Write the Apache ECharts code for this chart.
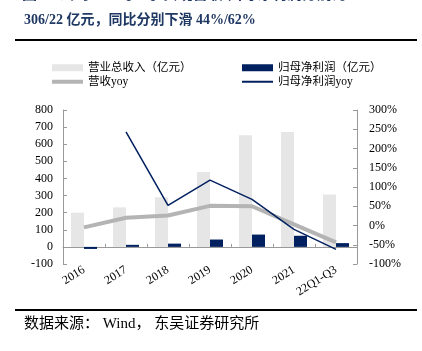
<!DOCTYPE html>
<html><head><meta charset="utf-8">
<script src="https://cdn.jsdelivr.net/npm/echarts@6/dist/echarts.min.js"></script>
<style>html,body{margin:0;padding:0;background:#fff;}#c{width:422px;height:351px;}</style>
</head><body><div id="c"></div>
<script>
const categories = ['2016','2017','2018','2019','2020','2021','22Q1-Q3'];
const revenue = [200, 231, 290, 437, 653, 672, 306];
const profit = [-12, 12, 19, 43, 72, 65, 22];
const revenueYoy = [-5, 20, 26, 51, 50, 3, -44];
const profitYoy = [null, 243, 52, 118, 68, -10, -62];
const leftTicks = {min: -100, max: 800, interval: 100};
const rightTicks = {min: -100, max: 300, interval: 50};

const serif = '"Liberation Serif","Noto Sans CJK SC",serif';
const cjk = '"Liberation Serif","Noto Sans CJK SC",serif';
const navy = '#002060';
const chart = echarts.init(document.getElementById('c'), null, {renderer: 'canvas'});
const legendBase = {orient: 'horizontal', itemWidth: 31, textStyle: {fontFamily: cjk, fontSize: 11.5, color: '#000'}, itemGap: 4, padding: 0};
chart.setOption({
  animation: false,
  backgroundColor: '#fff',
  graphic: [
    {type: 'text', left: 22, top: -12, style: {text: '图1：公司2022Q1-Q3实现营收/归母净利润分别为', font: 'bold 15px "Liberation Serif","Noto Sans CJK SC"', fill: '#1f3864'}},
    {type: 'text', left: 24, top: 13, style: {text: '306/22 亿元，同比分别下滑 44%/62%', font: 'bold 14px "Liberation Serif","Noto Sans CJK SC"', fill: '#1f3864'}},
    {type: 'rect', shape: {x: 15, y: 39, width: 402, height: 2}, style: {fill: '#000'}},
    {type: 'rect', shape: {x: 15, y: 309, width: 402, height: 2}, style: {fill: '#000'}},
    {type: 'text', left: 24, top: 317, style: {text: '数据来源： Wind， 东吴证券研究所', font: '15px "Liberation Serif","Noto Sans CJK SC"', fill: '#000'}}
  ],
  legend: [
    Object.assign({}, legendBase, {left: 52, top: 62, itemHeight: 7, icon: 'rect', data: ['营业总收入（亿元）']}),
    Object.assign({}, legendBase, {left: 242, top: 62, itemHeight: 7, icon: 'rect', data: ['归母净利润（亿元）']}),
    Object.assign({}, legendBase, {left: 52, top: 76, itemHeight: 4, icon: 'rect', data: ['营收yoy']}),
    Object.assign({}, legendBase, {left: 242, top: 76, itemHeight: 2, icon: 'rect', data: ['归母净利润yoy']})
  ],
  grid: {left: 63, right: 65, top: 110, bottom: 87, containLabel: false},
  xAxis: {
    type: 'category', data: categories,
    axisLine: {onZero: true, lineStyle: {color: '#999', width: 1}},
    axisTick: {show: true, inside: true, length: 3, interval: 0, alignWithLabel: false, lineStyle: {color: '#999'}},
    axisLabel: {rotate: 32, interval: 0, margin: 5, fontFamily: serif, fontSize: 12, color: '#000'}
  },
  yAxis: [
    {type: 'value', min: leftTicks.min, max: leftTicks.max, interval: leftTicks.interval,
     axisLine: {show: true, lineStyle: {color: '#999'}},
     axisTick: {show: true, inside: true, length: 4, lineStyle: {color: '#999'}},
     splitLine: {show: false},
     axisLabel: {fontFamily: serif, fontSize: 12, color: '#000', margin: 10}},
    {type: 'value', min: rightTicks.min, max: rightTicks.max, interval: rightTicks.interval, position: 'right',
     axisLine: {show: true, lineStyle: {color: '#999'}},
     axisTick: {show: true, inside: true, length: 4, lineStyle: {color: '#999'}},
     splitLine: {show: false},
     axisLabel: {fontFamily: serif, fontSize: 12, color: '#000', margin: 12, formatter: '{value}%'}}
  ],
  series: [
    {name: '营业总收入（亿元）', type: 'bar', data: revenue, barWidth: 13, barGap: '0%', itemStyle: {color: '#e6e6e6'}},
    {name: '归母净利润（亿元）', type: 'bar', data: profit, barWidth: 13, barGap: '0%', itemStyle: {color: navy}},
    {name: '营收yoy', type: 'line', yAxisIndex: 1, data: revenueYoy, symbol: 'none', lineStyle: {color: '#b4b4b4', width: 4}, itemStyle: {color: '#b4b4b4'}},
    {name: '归母净利润yoy', type: 'line', yAxisIndex: 1, data: profitYoy, symbol: 'none', lineStyle: {color: navy, width: 1.5}, itemStyle: {color: navy}}
  ]
});
</script></body></html>
